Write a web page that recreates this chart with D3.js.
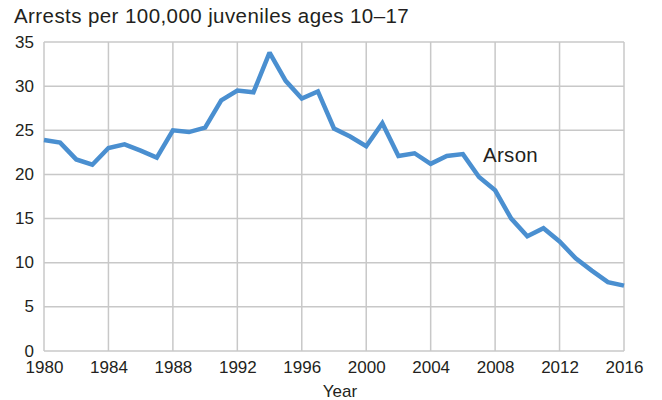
<!DOCTYPE html>
<html><head><meta charset="utf-8">
<script src="https://cdn.jsdelivr.net/npm/d3@7"></script>
<style>body{margin:0;background:#fff}svg{display:block}text{font-family:"Liberation Sans",Arial,Helvetica,sans-serif;fill:#231f20}</style>
</head><body><div id="chart"></div>
<script>
const years = [1980,1981,1982,1983,1984,1985,1986,1987,1988,1989,1990,1991,1992,1993,1994,1995,1996,1997,1998,1999,2000,2001,2002,2003,2004,2005,2006,2007,2008,2009,2010,2011,2012,2013,2014,2015,2016];
const arson = [23.9,23.6,21.7,21.1,23.0,23.4,22.7,21.9,25.0,24.8,25.3,28.4,29.5,29.3,33.8,30.6,28.6,29.4,25.2,24.3,23.2,25.8,22.1,22.4,21.2,22.1,22.3,19.7,18.2,15.0,13.0,13.9,12.4,10.5,9.1,7.8,7.4];
const xTicks = [1980,1984,1988,1992,1996,2000,2004,2008,2012,2016];
const yTicks = [0,5,10,15,20,25,30,35];
const title = "Arrests per 100,000 juveniles ages 10\u201317";
const xTitle = "Year";
const seriesLabel = "Arson";

const W = 662, H = 400;
const m = {left:44, right:38, top:42, bottom:49};
const svg = d3.select("#chart").append("svg").attr("width", W).attr("height", H);
const x = d3.scaleLinear().domain([1980,2016]).range([m.left, W - m.right]);
const y = d3.scaleLinear().domain([0,35]).range([H - m.bottom, m.top]);

const grid = svg.append("g").attr("stroke", "#c8c8c8").attr("stroke-width", 1.5);
grid.selectAll("line.h").data(yTicks).join("line").attr("class","h")
  .attr("x1", x(1980)).attr("x2", x(2016)).attr("y1", d => y(d)).attr("y2", d => y(d));
grid.selectAll("line.v").data(xTicks).join("line").attr("class","v")
  .attr("y1", y(0)).attr("y2", y(35)).attr("x1", d => x(d)).attr("x2", d => x(d));

const yAxis = svg.append("g").attr("transform", `translate(${m.left},0)`)
  .call(d3.axisLeft(y).tickValues(yTicks).tickSize(0).tickPadding(10));
yAxis.select(".domain").remove();
yAxis.selectAll("text").style("font-size", "17px").style("fill", "#231f20").attr("dy", "0.3em")
  .style("font-family", '"Liberation Sans",Arial,sans-serif');

const xAxis = svg.append("g").attr("transform", `translate(0,${y(0)})`)
  .call(d3.axisBottom(x).tickValues(xTicks).tickFormat(d3.format("d")).tickSize(0).tickPadding(10));
xAxis.select(".domain").remove();
xAxis.selectAll("text").style("font-size", "17px").style("fill", "#231f20")
  .style("font-family", '"Liberation Sans",Arial,sans-serif');

svg.append("path").datum(years.map((yr,i)=>[yr, arson[i]]))
  .attr("fill","none").attr("stroke","#4a8fd0").attr("stroke-width",4.5)
  .attr("stroke-linejoin","miter").attr("stroke-miterlimit",2)
  .attr("d", d3.line().x(d => x(d[0])).y(d => y(d[1])));

svg.append("text").attr("x", 14).attr("y", 23).style("font-size","20.5px").style("letter-spacing","0.42px").text(title);
svg.append("text").attr("x", 340).attr("y", 397).attr("text-anchor","middle").style("font-size","17px").text(xTitle);
svg.append("text").attr("x", 483).attr("y", 162).style("font-size","20.5px").style("letter-spacing","0.3px").text(seriesLabel);
</script></body></html>
